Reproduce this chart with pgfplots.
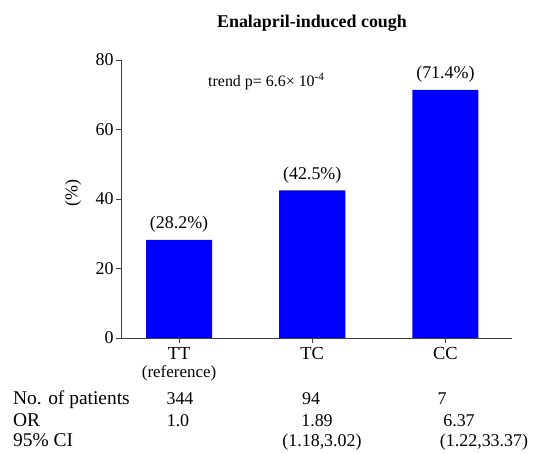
\documentclass[border=0pt]{standalone}
\usepackage{pgfplots}
\pgfplotsset{compat=1.18}
\usepackage{fontspec}
\setmainfont{Liberation Serif}
\newcommand{\fs}[1]{\fontsize{#1}{#1}\selectfont}
\definecolor{axgray}{RGB}{64,64,64}
\begin{document}
\begin{tikzpicture}[x=1bp,y=1bp]
\begin{axis}[
  at={(0,0)}, anchor=south west,
  scale only axis, width=391bp, height=278bp,
  xmin=-0.436, xmax=2.5, ymin=0, ymax=80,
  axis x line=bottom, axis y line=left,
  axis line style={axgray, line width=0.9pt, -},
  tick style={axgray, line width=0.9pt},
  tick align=outside, major tick length=5bp,
  xtick={0,1,2},
  xticklabels={{TT\\[-1bp]{\fs{17}(reference)}},TC,CC},
  xticklabel style={font=\fs{18.5}, align=center, text depth=0pt, yshift=-1bp},
  ytick={0,20,40,60,80},
  yticklabel style={font=\fs{18}, xshift=1bp},
  /pgf/number format/assume math mode=true,
  clip=false,
  ybar, bar width=0.496,
  nodes near coords={(\pgfmathprintnumber[fixed,precision=1,fixed zerofill]{\pgfplotspointmeta}\%)},
  nodes near coords style={font=\fs{18}, anchor=south, inner sep=0pt, yshift=7bp, black},
]
\addplot[fill=blue, draw=none] coordinates {(0,28.2) (1,42.5) (2,71.4)};
\end{axis}
% title and annotations (tikz coords: px_x-121, 338-px_y)
\node[anchor=base, font=\fs{18}\bfseries] at (191,310) {Enalapril-induced cough};
\node[anchor=base west, font=\fs{16}, inner sep=0pt] at (87,251) {trend p= 6.6× 10\textsuperscript{-4}};
\node[rotate=90, font=\fs{18}] at (-48,145) {(\%)};
% table rows
\begin{scope}[every node/.style={font=\fs{18}, inner sep=0pt}]
\node[anchor=base west, font=\fs{19.5}] at (-108,-67) {No. of patients};
\node[anchor=base west, font=\fs{19.5}] at (-108,-89) {OR};
\node[anchor=base west, font=\fs{19.5}] at (-108,-109) {95\% CI};
\node[anchor=base] at (59,-67) {344};
\node[anchor=base] at (57,-89) {1.0};
\node[anchor=base] at (190,-67) {94};
\node[anchor=base] at (196,-89) {1.89};
\node[anchor=base] at (201,-109) {(1.18,3.02)};
\node[anchor=base] at (321,-67) {7};
\node[anchor=base] at (338,-89) {6.37};
\node[anchor=base] at (363,-109) {(1.22,33.37)};
\end{scope}
\useasboundingbox (-121,-116) rectangle (436,338);
\end{tikzpicture}
\end{document}
